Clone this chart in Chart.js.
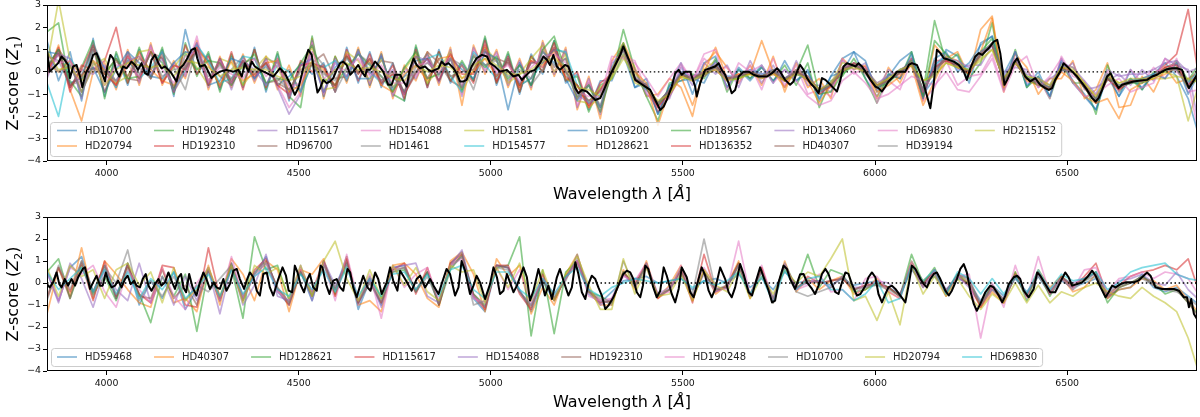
<!DOCTYPE html>
<html>
<head>
<meta charset="utf-8">
<title>Z-score spectra</title>
<script src="https://cdn.jsdelivr.net/npm/chart.js@4.4.1/dist/chart.umd.min.js"></script>
<style>
  html, body { margin: 0; padding: 0; background: #fff; }
  canvas { display: block; }
</style>
</head>
<body>
<canvas id="topChart" width="1200" height="208"></canvas>
<canvas id="bottomChart" width="1200" height="209"></canvas>
<script>
// wavelength grid shared by the individual stars (Angstrom)
const waves = [
  3845,3875,3905,3935,3965,3995,4025,4055,4085,4115,4145,4175,4205,4235,4265,4295,4325,4355,4385,4415,
  4445,4475,4505,4535,4565,4595,4625,4655,4685,4715,4745,4775,4805,4835,4865,4895,4925,4955,4985,5015,
  5045,5075,5105,5135,5165,5195,5225,5255,5285,5315,5345,5375,5405,5435,5465,5495,5525,5555,5585,5615,
  5645,5675,5705,5735,5765,5795,5825,5855,5885,5915,5945,5975,6005,6035,6065,6095,6125,6155,6185,6215,
  6245,6275,6305,6335,6365,6395,6425,6455,6485,6515,6545,6575,6605,6635,6665,6695,6725,6755,6785,6815,6845
];

const xTicks = [4000, 4500, 5000, 5500, 6000, 6500];
const yTicks = [-4, -3, -2, -1, 0, 1, 2, 3];

const topStars = ['HD10700','HD20794','HD190248','HD192310','HD115617','HD96700','HD154088','HD1461','HD1581','HD154577',
  'HD109200','HD128621','HD189567','HD136352','HD134060','HD40307','HD69830','HD39194','HD215152'];
const bottomStars = ['HD59468','HD40307','HD128621','HD115617','HD154088','HD192310','HD190248','HD10700','HD20794','HD69830'];

// ---- Z1, individual stars ----
const topHD10700 = [1.4,-0.4,0.9,-1.3,1.5,-1.1,0.8,-0.6,1.0,-0.2,1.0,-1.1,1.9,-0.1,0.8,-0.8,0.7,-0.7,1.1,-0.9,0.8,
  -1.3,0.4,-0.1,0.4,-0.9,1.1,-0.5,0.9,-0.7,0.4,-1.3,1.1,-0.7,1.0,-0.5,0.4,-0.4,1.5,-0.6,0.8,-1.0,0.8,-0.1,1.4,-0.5,-0.1,-1.7,-0.4,
  -0.4,0.8,-0.7,-0.3,-1.9,-0.7,0.4,-1.0,0.4,0.7,-0.7,0.2,-0.3,0.3,-0.5,0.5,-0.4,0.1,-1.3,-0.2,0.6,0.9,
  -0.3,-1.1,-0.2,0.5,0.9,-1.0,-0.3,1.0,0.7,-0.5,1.3,1.6,-0.1,0.9,-0.7,0.0,-1.1,0.6,-0.5,-1.1,-1.7,-0.2,-1.1,0.1,-0.8,-0.1,0.4,-0.2,-1.2,-3.0];
const topHD20794 = [-0.2,1.2,-0.8,-2.2,0.0,0.4,-0.8,1.0,-0.6,1.3,-0.6,0.5,-0.3,1.4,-0.8,0.7,-0.7,0.8,-0.5,0.7,-0.8,
  0.3,-1.1,1.5,-1.2,0.7,-0.5,1.1,-0.7,0.9,-1.2,0.3,-0.4,0.9,-0.6,1.1,-1.5,1.2,-0.1,1.0,-0.7,0.6,-0.8,1.4,-0.2,1.1,-1.7,-0.2,-2.1,
  0.5,1.3,0.2,-1.1,-1.0,-0.3,-0.7,-2.0,0.3,0.9,0.2,-0.5,0.3,-0.6,0.7,-0.9,0.4,-0.7,-0.3,-1.2,0.6,0.1,
  0.3,-1.2,0.2,-0.5,0.6,-1.3,1.2,0.6,0.9,-0.2,1.9,2.5,-0.9,0.8,0.2,-1.0,-0.3,-0.3,0.5,-1.2,-0.8,0.4,-1.6,-1.5,-0.2,-0.9,0.2,-0.5,-0.3,0.0];
const topHD190248 = [1.8,2.2,-0.7,0.2,1.4,-1.2,0.9,-0.5,1.1,-0.3,1.1,-1.0,1.3,-0.2,0.9,-0.9,0.8,-0.6,1.0,-0.8,0.9,
  -1.1,-1.6,1.6,-1.1,0.7,-0.4,1.0,-0.6,0.8,-1.0,-1.3,1.2,-0.6,0.9,-0.4,0.5,-0.4,1.6,-0.5,0.9,-0.9,0.7,0.0,1.4,-0.4,-0.2,-1.8,-0.6,
  -0.3,1.9,0.1,-1.1,-2.2,-0.5,-0.4,-0.1,-0.3,0.6,-0.9,0.1,-0.3,0.2,-0.4,0.3,-0.6,0.4,-1.6,-0.4,-0.2,0.6,
  -0.3,-1.4,-0.1,-0.3,0.9,-0.9,2.3,0.4,0.8,-0.3,0.4,2.2,-0.8,1.0,-0.7,-0.2,-1.2,0.4,-0.5,-0.5,-1.9,0.3,-0.9,-0.3,-0.8,0.0,0.0,0.5,-0.4,0.4];
const topHD192310 = [0.0,1.1,-0.9,0.3,0.1,0.5,2.0,-0.5,0.9,-0.3,0.9,-0.9,1.2,-0.1,0.7,-0.7,0.9,-0.8,1.0,-0.7,0.6,
  -1.2,0.5,0.0,0.3,-0.9,1.0,-0.4,0.8,-0.6,0.3,-1.2,1.0,-0.7,0.9,-0.4,0.3,-0.5,1.4,-0.5,0.7,-0.9,0.7,0.0,1.3,-0.4,0.0,-1.6,-0.5,
  -0.1,1.2,-0.4,-0.7,-1.8,-1.1,-0.2,-0.2,-0.1,0.1,-0.4,-0.1,-0.1,-0.3,-0.1,-0.4,-0.1,-0.2,-0.8,-0.7,0.0,0.4,
  0.2,-0.6,-0.3,-0.1,0.6,-1.2,0.5,0.5,0.2,-0.1,0.9,1.2,-0.4,0.5,-0.2,-0.6,-0.7,0.2,0.0,-0.6,-1.2,-0.2,-0.8,-0.4,-0.3,-0.1,0.3,0.8,2.8,-0.5];
const topHD115617 = [-0.3,1.0,-0.7,0.1,-0.1,0.3,-0.7,0.9,-0.5,1.2,-0.5,0.4,-0.2,1.3,-0.7,0.6,-0.8,0.7,-0.4,0.6,-0.7,
  -1.9,-1.0,1.4,-1.1,0.6,-0.4,1.0,-0.6,0.8,-1.1,0.2,-0.3,0.8,-0.5,1.0,-1.1,1.1,0.0,0.9,-0.6,0.5,-0.7,1.3,-0.1,1.0,-1.6,-0.3,-1.9,
  0.4,0.7,0.1,-1.0,-1.5,-1.2,0.2,-0.6,0.4,-0.1,0.3,-0.7,0.5,-0.5,0.3,-0.7,0.5,-0.6,-0.6,-0.9,0.5,0.1,
  0.4,-0.8,0.1,-0.3,0.6,-1.1,0.3,0.8,0.1,0.3,0.3,1.2,0.0,0.2,0.1,-0.7,-0.3,0.0,0.4,-0.8,-0.7,-0.4,-0.1,-0.6,0.1,-0.4,0.6,0.3,0.1,-2.6];
const topHD96700 = [0.2,1.0,0.3,-0.9,0.2,-0.1,0.6,-0.3,-0.4,0.9,0.6,-0.9,0.0,1.0,0.5,-0.2,-0.6,0.4,0.6,-0.5,-0.4,
  0.1,-0.9,0.4,0.8,-0.3,-0.2,0.9,-0.1,0.5,0.4,-1.0,-0.1,0.9,0.4,-0.4,-0.7,0.8,0.3,0.6,0.4,-0.6,-0.3,1.0,0.2,0.6,-1.2,-0.5,-1.6,
  -0.1,1.0,-0.3,-0.8,-1.4,-0.8,-0.1,-0.4,-0.2,0.2,-0.3,-0.2,0.0,-0.2,0.1,-0.4,0.0,-0.4,-0.8,-0.6,0.0,0.3,
  -0.1,-0.7,-0.4,0.0,0.3,-1.0,0.2,0.6,0.2,0.0,0.7,1.3,-0.5,0.5,-0.3,-0.4,-0.7,0.1,0.0,-0.7,-1.3,-0.3,-0.7,-0.5,-0.3,-0.2,0.2,0.4,-0.5,0.2];
const topHD154088 = [0.1,0.9,-0.6,-0.1,0.2,0.2,-0.6,0.8,-0.4,1.1,-0.4,0.3,-0.1,1.6,-0.6,0.5,-0.6,0.6,-0.3,0.5,-0.6,
  -1.6,-0.9,1.3,-1.0,0.5,-0.3,0.9,-0.5,0.7,-1.0,0.1,-0.2,0.7,-0.4,0.9,-1.0,1.0,0.1,0.8,-0.5,0.4,-0.6,1.2,0.0,0.9,-1.5,-0.4,-1.8,
  0.5,0.7,0.5,-0.9,-1.6,-1.0,0.3,-0.4,0.6,0.1,0.2,-0.5,0.3,-0.8,0.6,-0.6,0.3,-1.0,-0.8,-1.1,0.6,-0.1,
  0.2,-1.4,-0.4,-0.8,0.5,-1.3,-0.7,0.5,-0.6,-0.2,-0.1,0.8,-0.8,0.9,-0.5,-0.3,-1.2,0.7,-0.2,-0.4,-1.4,0.0,-0.9,0.1,-0.5,0.2,-0.3,0.6,-0.9,-0.8];
const topHD1461 = [0.7,0.5,-0.6,-0.4,1.3,0.1,-0.5,0.8,0.2,-0.3,0.9,0.2,-0.8,1.2,0.4,-0.6,0.1,0.7,-0.3,0.6,0.4,
  -0.6,-0.8,0.9,0.3,-0.9,0.1,0.8,0.4,-0.5,-0.1,-0.9,0.2,0.8,-0.2,0.6,0.3,-0.8,0.9,0.5,-0.4,0.3,-0.6,0.1,1.1,0.8,-0.9,-1.3,-0.8,
  0.0,1.1,-0.3,-0.7,-1.5,-0.9,-0.1,-0.3,-0.1,0.2,-0.3,-0.2,0.0,-0.2,0.0,-0.3,0.0,-0.3,-0.9,-0.6,0.1,0.3,
  0.0,-0.7,-0.4,0.0,0.4,-0.8,0.0,0.6,0.3,0.0,0.8,1.3,-0.4,0.5,-0.3,-0.5,-0.7,0.1,0.0,-0.7,-1.3,-0.2,-0.7,-0.5,-0.4,-0.2,0.1,0.2,-0.6,0.0];
const topHD1581 = [0.3,3.2,0.5,-0.9,0.3,0.6,-0.5,-0.2,0.9,1.0,-0.4,0.2,0.9,0.2,-0.6,0.6,0.4,-0.6,0.1,0.7,0.2,
  -0.9,0.2,1.1,-0.8,-0.7,0.9,0.5,-0.4,0.6,-0.7,0.1,0.8,-0.5,0.1,0.9,-0.9,0.1,1.1,0.5,-0.5,-0.1,0.6,1.2,0.0,0.8,-1.3,-1.4,-0.7,
  -0.3,0.6,-0.1,-0.6,-1.4,-1.0,-0.2,-0.4,0.1,0.5,-0.3,-0.3,-0.1,-0.2,0.0,-0.4,0.1,-0.2,-0.8,-0.5,0.4,0.3,
  0.1,-0.5,-0.3,0.1,0.3,-0.4,-0.1,0.4,0.2,0.1,0.5,1.0,-0.3,0.4,-0.2,-0.4,-0.6,0.2,0.2,-0.5,-1.1,-0.1,-0.5,-0.4,-0.4,-0.3,-0.3,-0.2,-2.2,-0.4];
const topHD154577 = [-0.5,-2.0,0.6,-0.2,1.2,0.1,-0.7,0.6,-0.3,0.2,0.9,-0.8,0.1,1.2,0.5,-0.5,-0.3,0.7,0.6,-0.6,0.3,
  0.0,-0.9,0.4,0.2,0.5,-0.3,0.9,0.0,-0.5,-0.2,-0.9,0.0,0.6,0.8,-0.2,-0.9,0.9,0.3,-0.3,0.6,-0.6,-0.3,0.4,1.0,0.9,-0.6,-1.4,-1.0,
  0.1,1.0,-0.3,-0.8,-1.4,-0.8,0.0,-0.3,-0.1,0.3,-0.2,-0.2,0.1,-0.1,0.0,-0.3,-0.1,-0.3,-0.9,-0.6,0.1,0.4,
  0.1,-0.6,-0.4,0.1,0.3,-0.8,0.3,0.7,0.4,0.1,0.9,1.2,-0.4,0.5,-0.2,-0.5,-0.7,0.1,0.0,-0.7,-1.2,-0.3,-0.6,-0.4,-0.3,-0.1,0.1,0.1,-0.5,0.1];
const topHD109200 = [0.9,0.8,-0.5,-0.3,0.2,-0.9,0.1,0.9,0.4,-0.2,-0.3,0.4,0.9,0.8,-0.6,-0.4,0.6,0.4,-0.3,0.3,-0.6,
  -0.2,0.3,0.6,-0.9,0.2,0.7,-0.3,-0.3,0.7,-0.8,-0.2,0.5,0.6,-0.4,0.6,0.1,-0.3,0.9,0.6,-1.7,0.4,-0.6,0.9,0.4,-0.3,-1.3,-0.6,-1.6,
  0.2,1.2,-0.7,-0.5,-1.9,-0.6,-0.4,-0.3,-0.5,0.5,-0.7,0.1,-0.4,0.2,-0.4,0.1,-0.4,0.0,-1.2,-0.2,0.0,0.9,
  0.5,-0.9,-0.1,-0.3,0.8,-1.2,0.6,0.9,0.0,0.4,1.2,1.6,-0.6,0.9,-0.6,-0.2,-1.1,0.5,-0.4,-1.0,-1.7,-0.1,-1.1,-0.3,-0.7,-0.1,-0.3,0.4,-1.0,0.0];
const topHD128621 = [0.4,0.0,0.5,-0.2,0.5,0.1,-0.6,0.4,0.7,0.1,-0.4,-0.6,0.3,1.1,0.3,-0.6,0.5,-0.4,-0.1,0.4,0.5,
  -0.9,-0.6,0.4,0.1,-0.6,0.7,0.0,0.5,-0.6,-0.9,-0.1,0.3,-0.4,0.6,0.7,-0.3,0.0,0.6,-0.2,0.4,-0.7,0.5,0.3,0.9,-0.3,-0.6,-1.6,-1.1,
  0.1,1.2,0.0,-0.5,-2.4,-0.8,-0.2,-1.5,0.0,1.1,-0.3,-0.1,-0.1,1.4,0.0,-0.7,0.1,-0.4,-1.4,-0.6,0.2,0.3,
  0.1,-0.9,-0.6,-0.2,0.3,-1.5,-0.4,0.7,0.5,-0.1,0.9,2.4,-0.7,0.5,-0.4,-0.6,-0.8,0.0,-0.4,-1.1,-1.4,-1.2,-2.1,-0.8,-0.5,-0.3,-0.1,0.2,-0.7,-0.2];
const topHD189567 = [0.2,1.0,-0.4,-1.1,1.0,-0.1,0.6,-0.3,-0.2,0.9,0.4,-0.8,0.8,0.1,0.5,0.4,-0.6,0.3,0.8,-0.5,-0.3,
  -0.4,0.4,1.2,-0.3,-0.6,0.2,0.8,0.3,-0.2,-0.9,0.2,0.9,-0.3,-0.1,0.6,-0.8,0.7,0.2,0.7,-0.3,0.3,-0.6,1.0,1.6,0.0,-1.1,-0.6,-1.8,
  0.0,1.3,-0.3,-0.7,-1.5,-0.9,-0.1,-0.3,-0.1,0.3,-0.3,-0.3,0.0,-0.2,0.1,-0.4,0.0,1.2,-1.0,-0.9,-0.1,0.3,
  0.0,-0.7,-0.5,0.0,0.5,-1.1,1.4,0.8,0.3,0.0,0.9,1.5,-0.3,0.5,-0.3,-0.6,-0.8,0.2,0.0,-0.7,-1.4,-0.3,-0.7,-0.5,-0.5,-0.2,0.1,0.2,-0.7,-0.2];
const topHD136352 = [0.1,0.8,-0.7,0.1,1.2,-0.1,-0.6,0.7,-0.3,0.9,-0.5,0.3,0.1,1.1,-0.6,0.6,-0.5,0.5,-0.2,0.4,-0.6,
  -1.0,0.3,0.4,0.2,-0.7,0.8,-0.1,0.6,-0.5,-0.1,-1.0,0.0,0.6,-0.4,0.8,-0.1,-0.1,1.2,-0.4,0.6,-0.7,0.5,0.2,1.1,-0.2,-0.6,-1.5,-0.8,
  0.0,1.1,-0.3,-0.7,-1.6,-0.9,-0.1,-0.3,-0.1,0.3,-0.3,-0.2,0.0,-0.2,0.0,-0.4,0.0,-0.3,-1.0,-0.6,0.1,0.4,
  0.0,-0.6,-0.4,0.0,0.4,-0.9,0.2,0.5,0.3,0.0,0.8,1.2,-0.4,0.5,-0.3,-0.5,-0.8,0.2,0.0,-0.7,-1.4,-0.3,-0.8,-0.4,-0.4,-0.2,0.2,0.3,-0.6,0.0];
const topHD134060 = [-0.1,0.8,0.6,-1.2,1.0,0.2,-0.4,0.5,0.7,-0.1,0.6,-0.9,0.3,1.3,-0.5,0.6,-0.5,0.5,0.1,-0.6,0.5,
  -1.1,0.3,0.6,-0.9,0.4,-0.2,0.9,0.0,-0.4,0.1,-1.0,0.7,0.5,-0.1,0.6,-0.7,0.3,1.0,-0.1,0.4,-0.5,0.4,0.5,1.0,0.1,-1.0,-1.4,-1.1,
  0.0,1.0,-0.2,-0.6,-1.4,-0.8,0.0,-0.2,0.0,0.4,-0.2,-0.2,0.1,-0.1,0.1,-0.3,0.1,-0.2,-0.8,-0.5,0.2,0.3,
  0.1,-0.5,-0.2,0.1,0.4,-0.9,0.2,0.6,0.5,0.2,0.9,1.2,-0.2,0.6,-0.1,-0.3,-0.6,0.4,0.2,-0.4,-1.0,0.1,-0.2,-0.1,-0.1,0.1,0.4,0.5,0.0,0.2];
const topHD40307 = [0.2,0.9,-0.6,-0.2,1.1,-0.9,0.5,-0.2,0.6,0.1,0.7,-0.7,0.2,1.0,-0.4,0.4,-0.4,0.5,-0.1,0.4,-0.5,
  -0.8,0.1,0.3,0.0,-0.6,0.7,-0.1,0.6,-0.4,0.0,-0.9,0.7,-0.3,0.6,-0.2,0.0,0.1,1.0,-0.2,0.5,-0.6,0.4,0.4,1.0,0.0,-0.6,-1.3,-0.9,
  0.0,1.0,-0.3,-0.6,-1.4,-0.8,-0.1,-0.3,0.0,0.2,-0.3,-0.2,0.0,-0.2,0.0,-0.3,0.0,-0.3,-0.8,-0.6,0.1,0.3,
  0.0,-0.6,-0.4,0.0,0.4,-0.8,0.1,0.6,0.3,0.0,0.8,1.2,-0.4,0.4,-0.3,-0.5,-0.7,0.1,0.0,-0.6,-1.2,-0.2,-0.6,-0.4,-0.4,-0.2,0.1,0.1,-0.6,-0.1];
const topHD69830 = [0.7,0.4,0.5,-0.7,0.5,-0.6,0.3,0.3,-0.2,1.1,0.1,-0.5,0.7,0.9,-0.4,0.2,-0.1,-0.3,0.6,-0.2,0.3,
  -0.7,-0.5,0.9,-0.3,0.1,0.1,0.6,-0.2,0.3,-0.5,-0.5,0.3,0.4,0.0,0.6,-0.6,0.4,0.8,0.0,0.3,-0.4,0.2,0.7,0.8,0.4,-0.9,-1.1,-1.1,
  0.7,0.6,0.4,-0.3,-1.1,-0.3,0.4,-0.4,0.8,1.0,-0.8,0.4,0.0,0.3,-0.5,0.1,-0.4,-1.1,-1.5,-1.3,-0.4,0.0,
  -0.5,-1.2,-1.0,-0.6,-0.2,-0.4,-0.6,0.0,-0.8,-0.9,-0.2,0.6,-0.9,0.3,0.7,-0.7,-0.2,0.6,-0.5,-1.1,-1.0,-0.6,-0.3,-0.9,-0.7,-0.5,0.6,0.0,-0.5,-2.9];
const topHD39194 = [0.9,0.0,0.3,-0.9,0.4,0.0,-0.4,0.5,-0.1,0.8,-0.2,0.1,0.2,0.9,-0.2,0.3,-0.3,0.3,0.0,0.2,-0.3,
  -0.8,0.0,0.4,-0.1,-0.4,0.6,0.0,0.4,-0.2,-0.7,-0.2,0.0,0.4,-0.1,0.6,-0.7,0.7,0.3,0.5,-0.2,0.1,-0.3,0.9,0.3,0.6,-1.2,-0.6,-1.5,
  0.0,1.0,-0.3,-0.7,-1.4,-0.9,-0.1,-0.3,-0.1,0.2,-0.3,-0.2,0.0,-0.2,0.0,-0.3,0.0,-0.3,-0.9,-0.6,0.1,0.3,
  0.0,-0.7,-0.4,0.0,0.4,-0.8,0.0,0.6,0.3,0.0,0.8,1.3,-0.4,0.5,-0.3,-0.5,-0.7,0.1,0.0,-0.7,-1.3,-0.2,-0.7,-0.5,-0.4,-0.2,0.1,0.1,-0.7,-0.1];
const topHD215152 = [0.9,0.1,0.2,-0.4,0.5,-0.6,0.1,0.4,0.3,0.2,0.3,-0.2,0.5,0.4,0.2,-0.2,0.1,0.2,0.1,0.1,-0.2,
  -0.4,-0.2,0.5,-0.5,0.1,0.4,0.1,0.2,0.0,-0.3,-0.4,0.3,0.0,0.3,0.2,-0.3,0.3,0.6,0.3,-0.1,-0.1,0.1,0.5,0.6,0.2,-0.7,-0.8,-1.1,
  -0.2,0.8,-0.5,-0.7,-1.3,-1.0,-0.2,-0.4,-0.1,0.1,-0.4,-0.3,-0.1,-0.3,-0.1,-0.4,-0.1,-0.3,-0.8,-0.5,0.1,0.2,
  0.0,-0.6,-0.3,0.1,0.3,-0.4,-0.2,0.4,0.2,0.1,0.6,1.0,-0.3,0.4,-0.2,-0.3,-0.6,0.2,0.1,-0.5,-1.1,-0.2,-0.5,-0.3,-0.3,-0.3,0.0,-0.2,-0.3,-0.5];

// ---- Z2, individual stars ----
const botHD59468 = [0.5,-0.8,0.7,1.2,-0.4,0.8,-0.7,0.9,-1.0,0.1,-0.7,0.5,-1.2,-0.3,0.7,-0.8,0.9,-0.7,0.4,1.2,-0.4,
  -1.0,0.5,-0.8,1.0,-0.3,1.2,-1.2,0.1,-1.0,0.7,0.8,-0.4,0.5,-1.0,0.9,1.4,-0.7,-1.3,0.8,0.7,-0.3,-1.3,0.1,-0.8,0.3,1.0,-0.5,-0.9,
  -0.4,0.1,0.2,0.3,0.0,0.1,0.2,-0.3,0.1,0.2,0.0,0.4,-0.2,0.2,-0.3,0.5,0.0,0.1,0.1,-0.1,0.2,-0.1,
  0.0,0.1,-0.2,-0.5,0.6,0.0,0.3,-0.3,0.2,0.0,-0.8,-0.1,-0.6,0.2,-0.4,0.3,-0.5,0.1,-0.2,0.0,0.2,-0.6,-0.3,-0.2,0.4,-0.2,-0.4,-0.2,-0.6,-1.0];
const botHD40307 = [-1.4,0.7,-0.6,1.6,-0.7,1.0,0.4,-0.3,-0.9,-1.1,0.7,-0.9,-0.7,-1.3,0.8,-1.0,1.1,0.4,-0.8,1.0,0.6,
  -1.3,0.6,0.4,1.1,-0.6,1.2,-1.0,-0.8,-1.3,0.8,0.9,0.4,-0.7,-1.1,1.0,1.4,0.4,-1.3,1.1,0.3,0.8,-1.4,-0.2,-1.0,0.4,1.3,-0.4,-1.0,
  -1.0,0.6,-0.3,1.0,-0.7,-0.1,0.8,-0.8,0.6,-0.5,-0.1,1.0,-0.7,0.7,-0.9,1.0,-0.4,0.2,-0.3,0.1,0.3,-0.5,
  -0.3,0.2,-0.4,-0.7,0.9,0.1,0.5,-0.6,0.4,0.0,-1.1,-0.4,-0.9,0.5,-0.6,0.6,-0.2,0.3,-0.4,-0.2,0.4,-0.7,-0.3,-0.2,0.2,0.1,-0.3,-0.1,-0.8,-1.4];
const botHD128621 = [0.5,1.1,-0.7,0.8,-0.5,0.3,-0.8,0.7,-0.5,-1.8,0.3,-0.6,0.4,-2.2,0.6,-0.7,0.7,-1.6,2.1,0.6,0.8,
  -0.8,0.5,-0.6,0.9,-0.5,0.9,-0.9,0.3,-0.7,0.5,0.6,-0.4,0.5,-1.0,0.6,1.3,-0.5,-1.0,0.7,0.8,2.1,-2.4,0.6,-2.3,0.5,1.0,-0.4,-0.6,
  -0.9,0.5,-0.1,0.8,-0.6,-0.3,0.7,-0.7,0.5,-0.3,-0.2,0.9,-0.6,0.6,-0.8,0.9,-0.2,1.3,-0.2,0.6,0.4,-0.4,
  -0.3,0.0,-0.2,-0.6,1.3,0.0,0.7,-0.5,0.4,-0.1,-1.0,-0.1,-0.8,0.5,-0.8,0.5,-0.6,0.3,-0.1,0.1,0.5,-0.9,-0.2,0.0,0.3,0.0,-0.5,-0.3,-0.9,-1.5];
const botHD115617 = [-0.7,0.7,-0.4,0.9,-0.8,1.0,-0.6,0.8,-0.5,-0.9,0.8,0.7,-1.0,-1.1,1.6,-0.7,0.7,-0.8,0.6,1.1,-0.3,
  -1.0,0.6,-0.4,1.0,-0.6,1.1,-0.9,0.2,-0.9,0.6,0.9,-0.5,0.7,-1.0,0.9,1.3,-0.6,-1.2,0.8,0.8,-0.5,-1.2,0.4,-0.8,0.3,1.0,-0.3,-0.9,
  -0.8,0.4,0.0,0.9,-0.7,-0.3,0.6,-0.9,1.3,-0.4,-0.1,0.9,-0.6,0.7,-0.9,0.8,-0.3,0.3,0.0,0.1,0.2,-0.3,
  -0.1,0.0,-0.2,-0.6,0.8,-0.1,0.6,-0.4,0.3,-0.1,-1.1,-0.2,-0.9,0.4,-0.6,0.5,-0.5,0.3,-0.2,0.3,0.9,-0.6,-0.1,0.3,0.5,0.6,0.8,0.6,1.1,-0.5];
const botHD154088 = [0.5,-0.9,0.9,0.2,-1.1,0.6,-0.3,-0.8,0.9,-0.9,0.3,-1.0,0.3,-0.8,0.6,-1.4,0.8,-1.0,-0.1,1.3,-0.6,
  -0.8,0.8,-0.8,1.0,-0.1,0.9,-1.0,0.2,-1.1,0.7,0.8,0.9,-0.6,-0.9,0.8,1.5,-0.6,-1.1,0.8,0.7,-0.4,-1.0,0.2,-0.7,0.2,1.1,-0.3,-1.0,
  -0.7,0.4,-0.2,0.7,-0.5,-0.2,0.5,-0.6,0.4,-0.4,-0.2,0.8,-0.6,0.5,-0.7,0.8,-0.2,0.0,0.1,-0.2,0.3,-0.2,
  -0.2,0.1,0.0,-0.5,0.7,-0.2,0.6,-0.3,0.3,-0.2,-0.9,-0.3,-0.7,0.3,-0.5,0.4,-0.3,0.2,0.0,0.2,0.4,-0.5,0.1,0.2,0.4,0.0,-0.1,0.5,-0.3,-0.8];
const botHD192310 = [-0.6,0.7,-0.7,1.0,-0.4,0.8,-0.7,0.9,-0.6,-0.7,0.6,-0.7,-0.1,-1.0,0.6,-0.8,0.9,-0.6,0.5,1.0,-0.2,
  -0.9,0.5,-0.6,0.9,-0.3,1.0,-0.9,0.0,-0.9,0.6,0.7,-0.3,0.5,-0.9,0.8,1.2,-0.5,-1.1,0.8,0.7,-0.4,-1.1,0.2,-0.7,0.2,0.9,-0.4,-0.8,
  -0.9,0.5,-0.1,0.8,-0.6,-0.3,0.6,-0.6,0.5,-0.3,-0.2,0.8,-0.5,0.6,-0.8,0.8,-0.2,0.1,0.0,0.1,0.2,-0.3,
  -0.1,-0.1,-0.2,-0.6,1.0,0.0,0.5,-0.4,0.4,0.2,-1.0,-0.1,-0.8,0.3,-0.6,0.5,-0.4,0.2,-0.1,0.2,0.5,-0.7,-0.2,0.0,0.3,-0.1,-0.3,-0.3,-0.9,-1.6];
const botHD190248 = [0.6,-0.8,0.7,0.4,0.8,-0.4,-1.1,0.6,-0.3,-0.9,0.7,-0.6,-1.2,0.0,0.7,-0.8,1.2,-0.7,0.3,0.9,-0.4,
  -0.8,0.7,-0.4,0.9,-0.8,1.3,-0.8,0.4,-1.6,0.8,-0.2,0.4,0.7,-0.8,0.8,1.1,-0.7,-0.9,0.7,-0.3,0.6,-0.9,0.2,-0.5,0.2,1.0,-0.6,-0.8,
  -0.7,0.3,0.1,0.9,-0.5,-0.4,0.8,-0.7,0.7,-0.2,-0.3,1.9,-0.6,0.8,-0.8,0.9,-0.3,-0.1,0.4,-0.4,-0.3,-0.8,
  0.2,0.3,-0.4,-0.7,0.9,-0.2,0.5,-0.6,0.3,0.4,-2.5,0.0,-1.1,0.8,-0.7,1.2,-0.5,0.2,-0.3,0.6,0.7,-0.4,0.2,0.3,0.5,0.2,0.5,0.4,0.2,-0.6];
const botHD10700 = [-0.8,0.8,-0.3,1.0,-0.6,0.7,0.0,1.5,-0.8,0.1,-0.6,0.3,-0.8,-0.1,-0.4,0.2,0.8,-0.8,0.4,0.9,-0.2,
  -0.9,0.5,-0.5,0.8,-0.2,0.8,-0.8,0.0,-0.8,0.5,0.7,-0.4,0.3,-0.9,0.7,1.2,-1.0,-0.8,0.7,0.6,-0.4,-1.0,0.1,-0.6,0.1,1.3,-0.4,-0.7,
  -1.0,1.0,-0.2,0.9,-0.6,-0.3,0.4,-0.5,2.0,-0.3,-0.1,0.8,-0.5,0.5,-0.7,0.8,-0.4,-0.6,-0.4,-0.2,0.3,-0.3,
  -0.2,-0.1,-0.3,-0.6,0.7,-0.2,0.4,-0.4,0.4,0.1,-1.0,-0.3,-0.8,0.3,-0.5,0.3,-0.4,0.2,-0.3,0.1,0.3,-0.5,-0.1,0.0,0.2,-0.1,-0.3,-0.4,-0.7,-1.1];
const botHD20794 = [0.7,-0.6,0.8,0.3,0.6,-0.7,0.6,0.9,-0.1,0.5,-0.9,0.7,-0.8,-0.3,0.7,-0.6,0.8,-0.9,0.8,0.4,0.7,
  -0.7,0.8,-0.6,1.0,1.9,0.2,-0.8,0.6,-0.7,0.8,-0.1,0.7,-0.4,-0.8,0.8,0.5,0.6,-0.9,0.7,-0.2,0.9,-0.8,0.6,-0.8,0.4,1.2,-0.1,-1.2,
  -1.2,1.1,-0.5,0.7,-0.6,-0.5,0.4,-0.8,0.6,-0.1,-0.4,0.6,-0.7,0.3,-0.5,0.6,0.0,0.5,0.3,1.1,2.0,-0.8,
  -0.6,-1.7,-0.4,-1.9,0.8,-0.5,0.3,-0.6,0.2,-0.6,-1.2,-0.5,-0.9,0.0,-0.9,-0.1,-0.9,-0.4,-0.6,-0.2,0.0,-0.4,-0.6,-0.7,-0.2,-0.6,-0.9,-1.3,-2.5,-4.2];
const botHD69830 = [0.5,-0.3,0.2,0.7,-0.4,0.6,-0.5,0.5,-0.7,0.2,-0.3,0.5,-0.7,-0.2,0.4,-0.6,0.6,-0.5,0.3,0.7,-0.3,
  -0.6,0.4,-0.3,0.6,-0.4,0.7,-0.6,0.2,-0.6,0.4,0.5,-0.3,0.4,-0.6,0.6,0.8,-0.3,-0.7,0.5,0.5,-0.3,-0.7,0.2,-0.5,0.3,0.7,-0.3,-0.6,
  -0.2,0.0,0.2,0.1,0.0,0.1,0.2,-0.2,0.1,-0.1,0.1,0.5,-0.5,0.3,-0.9,0.6,-0.3,0.2,0.3,-0.3,-0.3,-0.8,
  -0.5,0.1,-0.9,-0.7,0.8,0.1,0.6,-0.5,0.5,0.2,-0.5,0.2,-0.5,0.3,-0.5,0.6,-0.3,0.4,0.1,0.2,0.5,-0.3,0.0,0.5,0.7,0.8,0.9,0.4,0.2,0.1];

// ---- mean curves (black), [wavelength, Z] read at the turning points ----
const meanTop = [
  [3845,0.99],[3852,0.01],[3861,0.16],[3874,0.39],[3883,0.69],[3891,0.54],[3900,0.31],[3905,-0.28],[3913,0.24],[3922,0.31],
  [3931,-0.21],[3937,-0.69],[3946,-0.06],[3957,0.31],[3965,0.76],[3974,0.84],[3981,0.54],[3987,0.01],[3996,-0.43],[4002,0.24],
  [4010,0.76],[4017,0.61],[4026,0.01],[4033,-0.21],[4043,0.24],[4052,0.16],[4065,0.46],[4074,0.31],[4082,0.09],[4091,0.39],
  [4100,-0.06],[4108,-0.13],[4117,0.54],[4126,0.76],[4135,0.39],[4143,0.16],[4152,0.24],[4161,0.09],[4169,-0.06],[4182,-0.43],
  [4191,0.16],[4200,0.31],[4208,0.54],[4221,0.99],[4230,1.06],[4236,0.61],[4243,0.24],[4256,0.31],[4265,0.01],[4273,-0.28],
  [4282,-0.13],[4295,0.01],[4312,0.09],[4330,0.01],[4343,0.09],[4352,-0.21],[4360,0.39],[4369,0.01],[4378,0.46],[4386,0.24],
  [4399,0.09],[4417,-0.06],[4434,-0.21],[4451,0.16],[4464,-0.06],[4477,-0.51],[4490,-1.03],[4499,-0.73],[4508,-0.13],[4516,0.46],
  [4525,0.99],[4534,0.76],[4543,-0.36],[4549,-0.93],[4556,-0.73],[4564,-0.36],[4573,-0.51],[4582,-0.43],[4590,-0.28],[4599,0.09],
  [4608,0.39],[4616,0.46],[4625,0.31],[4634,-0.13],[4642,0.01],[4655,0.31],[4664,0.01],[4673,-0.21],[4677,0.09],[4686,0.09],
  [4699,0.46],[4707,0.31],[4720,0.01],[4733,-0.58],[4742,-0.58],[4751,-0.13],[4764,-0.13],[4773,-0.43],[4781,-0.66],[4790,0.16],
  [4799,0.60],[4807,0.31],[4816,0.16],[4829,0.24],[4838,0.09],[4846,0.01],[4855,0.09],[4864,0.16],[4872,0.46],[4881,0.31],
  [4890,0.39],[4903,0.16],[4911,-0.06],[4920,-0.43],[4929,-0.43],[4937,-0.36],[4950,0.24],[4963,0.61],[4977,0.76],[4990,0.69],
  [4998,0.39],[5011,0.24],[5024,0.01],[5042,0.09],[5059,-0.21],[5072,-0.13],[5081,-0.36],[5089,-0.21],[5102,0.01],[5115,0.09],
  [5128,0.39],[5137,0.69],[5146,0.54],[5154,0.31],[5163,0.76],[5172,0.24],[5180,0.09],[5193,0.31],[5202,0.24],[5211,-0.21],
  [5220,-0.73],[5228,-0.96],[5237,-0.81],[5250,-0.88],[5263,-1.11],[5272,-1.26],[5285,-1.18],[5298,-0.66],[5311,-0.13],[5324,0.31],
  [5337,0.76],[5345,1.14],[5354,0.76],[5363,0.39],[5376,-0.36],[5389,-0.51],[5402,-0.66],[5415,-0.81],[5428,-1.26],[5441,-1.71],
  [5450,-1.56],[5458,-1.26],[5471,-0.66],[5480,-0.06],[5489,0.09],[5497,-0.13],[5506,0.01],[5519,0.01],[5532,-0.66],[5536,-1.11],
  [5545,-0.51],[5558,0.09],[5571,0.16],[5584,0.24],[5593,0.39],[5601,0.09],[5610,-0.13],[5619,-0.51],[5627,-0.96],[5636,-0.81],
  [5645,-0.21],[5658,0.01],[5671,0.01],[5684,-0.13],[5697,-0.21],[5710,-0.21],[5719,-0.21],[5732,-0.06],[5745,0.16],[5753,0.01],
  [5766,-0.36],[5779,-0.58],[5788,-0.43],[5797,0.01],[5805,0.31],[5814,0.09],[5823,-0.28],[5832,-0.51],[5844,-0.73],[5853,-0.96],
  [5862,-0.28],[5871,-0.36],[5884,-0.58],[5892,-0.73],[5901,-0.88],[5910,-0.36],[5918,0.24],[5927,0.39],[5940,0.31],[5949,0.24],
  [5957,0.39],[5966,0.24],[5975,0.01],[5988,-0.36],[6001,-0.66],[6009,-0.73],[6018,-0.88],[6027,-0.66],[6035,-0.43],[6048,-0.21],
  [6057,0.01],[6070,0.01],[6079,0.01],[6088,0.31],[6096,0.39],[6109,0.31],[6118,-0.06],[6131,-0.81],[6144,-1.63],[6153,-0.51],
  [6161,0.99],[6170,0.84],[6179,0.61],[6192,0.54],[6205,0.46],[6218,0.31],[6231,0.01],[6239,-0.36],[6248,0.16],[6261,0.69],
  [6270,0.84],[6279,0.76],[6287,0.91],[6296,1.06],[6309,1.36],[6318,1.44],[6326,0.84],[6337,-0.58],[6344,-0.36],[6352,-0.06],
  [6361,0.39],[6370,0.61],[6378,0.31],[6391,-0.21],[6404,-0.43],[6417,-0.28],[6430,-0.58],[6443,-0.73],[6452,-0.81],[6461,-0.73],
  [6469,-0.36],[6482,0.01],[6491,0.39],[6500,0.24],[6513,0.01],[6526,-0.21],[6539,-0.51],[6552,-0.81],[6565,-1.18],[6574,-1.33],
  [6582,-1.18],[6591,-0.81],[6604,-0.21],[6613,-0.06],[6621,-0.36],[6634,-0.73],[6643,-0.58],[6656,-0.51],[6673,-0.43],[6691,-0.39],
  [6708,-0.36],[6721,-0.21],[6734,-0.13],[6747,0.01],[6760,0.12],[6773,0.16],[6786,0.16],[6799,0.09],[6808,-0.36],[6817,-0.73],
  [6825,-0.51],[6838,-0.13]
];
const meanBottom = [
  [3845,-0.05],[3852,-0.20],[3861,0.03],[3870,0.48],[3877,-0.05],[3883,-0.20],[3891,0.18],[3900,-0.12],[3909,0.18],[3918,-0.12],
  [3926,0.26],[3938,0.64],[3944,0.71],[3950,0.26],[3957,-0.27],[3965,0.03],[3974,0.33],[3983,-0.12],[3990,-0.12],[3998,0.48],
  [4004,0.11],[4013,-0.20],[4022,-0.12],[4030,0.11],[4039,-0.20],[4048,0.18],[4055,0.33],[4063,-0.05],[4072,0.11],[4078,-0.12],
  [4087,-0.20],[4094,0.18],[4102,0.41],[4109,-0.12],[4117,-0.35],[4126,-0.05],[4135,0.18],[4143,-0.12],[4152,0.03],[4161,0.48],
  [4169,0.11],[4178,-0.27],[4187,0.26],[4194,0.41],[4200,-0.20],[4207,-0.42],[4215,0.41],[4224,-0.20],[4234,-0.57],[4243,0.03],
  [4252,0.48],[4260,0.18],[4269,-0.27],[4279,0.03],[4286,-0.20],[4295,-0.27],[4304,0.18],[4312,-0.35],[4321,-0.05],[4330,0.56],
  [4339,0.64],[4347,0.18],[4358,-0.27],[4366,0.18],[4373,0.48],[4382,0.26],[4391,-0.35],[4399,-0.57],[4408,0.41],[4417,0.48],
  [4425,-0.20],[4434,-0.57],[4447,0.18],[4458,0.71],[4467,0.33],[4474,-0.35],[4483,-0.42],[4490,0.79],[4497,0.48],[4506,-0.12],
  [4514,-0.42],[4523,0.18],[4529,0.41],[4538,-0.20],[4547,-0.35],[4557,0.79],[4562,0.71],[4571,-0.05],[4580,-0.50],[4590,0.11],
  [4599,0.18],[4608,-0.20],[4616,-0.35],[4627,0.64],[4634,0.48],[4642,-0.20],[4651,-0.65],[4660,-0.12],[4668,0.33],[4679,-0.20],
  [4687,-0.35],[4699,0.48],[4707,0.18],[4716,-0.50],[4729,0.03],[4738,0.71],[4746,0.11],[4757,-0.35],[4764,0.56],[4777,0.18],
  [4794,-0.35],[4807,0.18],[4816,0.33],[4829,-0.20],[4842,0.18],[4851,-0.12],[4864,-0.50],[4872,-0.05],[4885,0.64],[4894,0.41],
  [4907,-0.57],[4916,-0.20],[4924,1.00],[4933,0.56],[4946,-0.50],[4955,-0.12],[4963,0.33],[4972,0.03],[4985,-0.73],[4998,-0.05],
  [5007,0.71],[5016,0.26],[5024,-0.50],[5033,-0.35],[5042,0.41],[5050,0.03],[5059,-0.42],[5068,-0.12],[5085,0.71],[5094,0.26],
  [5102,-0.80],[5111,-0.35],[5124,0.64],[5133,0.03],[5141,-0.57],[5150,-0.12],[5159,-0.73],[5172,0.26],[5180,0.64],[5189,0.11],
  [5202,-0.57],[5211,-0.20],[5220,0.94],[5228,0.41],[5237,-0.42],[5246,-0.73],[5254,-0.05],[5263,0.33],[5272,0.18],[5280,-0.20],
  [5289,-0.57],[5298,-1.18],[5306,-1.03],[5319,-0.65],[5332,-0.12],[5345,0.41],[5354,0.56],[5363,0.48],[5371,0.18],[5380,-0.42],
  [5389,-0.65],[5396,-0.12],[5402,0.79],[5410,0.64],[5423,-0.20],[5432,-0.65],[5441,-0.35],[5450,0.71],[5458,0.33],[5471,-0.50],
  [5480,-0.88],[5489,-0.27],[5497,0.71],[5510,0.26],[5519,-0.42],[5528,-0.65],[5536,-0.12],[5549,0.71],[5558,0.33],[5567,-0.35],
  [5575,-0.65],[5584,-0.27],[5597,0.71],[5610,0.18],[5619,-0.42],[5627,-0.65],[5636,-0.20],[5649,0.86],[5658,0.41],[5671,-0.42],
  [5680,-0.57],[5688,-0.05],[5701,0.71],[5710,0.26],[5723,-0.35],[5732,-0.88],[5740,-0.80],[5749,0.03],[5762,0.79],[5771,0.64],
  [5779,0.18],[5792,-0.27],[5805,0.40],[5814,0.41],[5823,0.03],[5836,-0.27],[5844,-0.50],[5853,-0.12],[5862,0.41],[5871,0.64],
  [5879,0.41],[5888,-0.05],[5897,-0.42],[5905,-0.50],[5914,0.03],[5923,0.48],[5931,0.41],[5940,-0.05],[5953,-0.57],[5962,-0.50],
  [5975,-0.12],[5983,0.26],[5992,0.48],[6001,0.26],[6009,-0.50],[6018,-0.88],[6027,-0.50],[6035,-0.20],[6044,-0.12],[6053,-0.27],
  [6066,-0.57],[6079,-0.88],[6088,-0.05],[6096,0.79],[6105,0.64],[6118,0.18],[6127,-0.05],[6135,-0.20],[6144,0.18],[6153,0.41],
  [6161,0.48],[6170,0.18],[6183,-0.35],[6192,-0.57],[6200,-0.35],[6213,0.18],[6222,0.64],[6231,0.86],[6239,0.48],[6248,-0.35],
  [6257,-0.95],[6265,-1.26],[6274,-0.95],[6287,-0.42],[6300,-0.12],[6309,-0.20],[6322,-0.57],[6331,-0.88],[6339,-0.57],[6348,-0.05],
  [6361,0.26],[6370,0.33],[6378,0.18],[6387,-0.35],[6400,-0.65],[6413,-0.27],[6422,0.48],[6430,0.33],[6443,-0.05],[6456,-0.42],
  [6469,-0.42],[6482,0.03],[6495,0.48],[6504,0.26],[6513,-0.12],[6526,-0.05],[6539,0.03],[6552,0.26],[6565,0.56],[6574,0.33],
  [6587,-0.20],[6600,-0.65],[6608,-0.42],[6617,-0.12],[6626,-0.20],[6639,-0.05],[6652,0.03],[6673,0.03],[6686,0.11],[6699,0.33],
  [6708,0.48],[6717,0.33],[6730,-0.20],[6747,-0.27],[6765,-0.27],[6778,-0.27],[6791,-0.35],[6804,-0.65],[6812,-0.65],[6817,-1.10],
  [6823,-0.73],[6830,-1.41],[6838,-1.63]
];

const topSeries = [topHD10700, topHD20794, topHD190248, topHD192310, topHD115617, topHD96700, topHD154088, topHD1461,
  topHD1581, topHD154577, topHD109200, topHD128621, topHD189567, topHD136352, topHD134060, topHD40307, topHD69830,
  topHD39194, topHD215152];
const bottomSeries = [botHD59468, botHD40307, botHD128621, botHD115617, botHD154088, botHD192310, botHD190248,
  botHD10700, botHD20794, botHD69830];

const xMin = 3845, xMax = 6838;
const tab10 = ['rgba(31,119,180,0.55)', 'rgba(255,127,14,0.55)', 'rgba(44,160,44,0.55)', 'rgba(214,39,40,0.55)',
  'rgba(148,103,189,0.55)', 'rgba(140,86,75,0.55)', 'rgba(227,119,194,0.55)', 'rgba(127,127,127,0.55)',
  'rgba(188,189,34,0.55)', 'rgba(23,190,207,0.55)'];
const FONT = '"DejaVu Sans", "Liberation Sans", sans-serif';

Chart.defaults.font.family = FONT;

function starSets(names, rows) {
  return names.map((name, i) => ({
    label: name,
    data: waves.map((w, k) => ({ x: w, y: rows[i][k] })),
    borderColor: tab10[i % 10],
    borderWidth: 1.7,
    pointRadius: 0,
    borderJoinStyle: 'round',
    clip: 0,
    order: 100 - i
  }));
}

function meanSet(pairs) {
  return {
    label: 'mean',
    data: pairs.map(p => ({ x: p[0], y: p[1] })),
    borderColor: '#000',
    borderWidth: 2,
    pointRadius: 0,
    borderJoinStyle: 'round',
    clip: 0,
    order: 0
  };
}

function zeroSet() {
  return {
    label: 'zero',
    data: [{ x: xMin, y: 0 }, { x: xMax, y: 0 }],
    borderColor: '#000',
    borderWidth: 1.4,
    borderDash: [1.5, 2.6],
    pointRadius: 0,
    clip: 0,
    order: 1
  };
}

// legend drawn in matplotlib style: boxed, column-major, inside the axes
const starLegend = {
  id: 'starLegend',
  afterDatasetsDraw(chart, args, opts) {
    const ctx = chart.ctx;
    const items = opts.items;
    const rows = opts.rows;
    const cols = Math.ceil(items.length / rows);
    ctx.save();
    ctx.font = '10px ' + FONT;
    const colW = [];
    for (let c = 0; c < cols; c++) {
      let w = 0;
      for (let r = 0; r < rows; r++) {
        const it = items[c * rows + r];
        if (it) w = Math.max(w, ctx.measureText(it.label).width);
      }
      colW.push(w);
    }
    const handle = 20, gap = 8, colGap = 22;
    let boxW = opts.padL + opts.padR + colGap * (cols - 1);
    colW.forEach(w => { boxW += handle + gap + w; });
    const bx = opts.x + 0.5, by = opts.top + 0.5;
    ctx.beginPath();
    if (ctx.roundRect) ctx.roundRect(bx, by, boxW, opts.height, 3);
    else ctx.rect(bx, by, boxW, opts.height);
    ctx.fillStyle = 'rgba(255,255,255,0.8)';
    ctx.fill();
    ctx.strokeStyle = '#cccccc';
    ctx.lineWidth = 1;
    ctx.stroke();

    ctx.textBaseline = 'middle';
    ctx.textAlign = 'left';
    let x = opts.x + opts.padL;
    for (let c = 0; c < cols; c++) {
      for (let r = 0; r < rows; r++) {
        const it = items[c * rows + r];
        if (!it) continue;
        const y = opts.top + opts.firstRow + r * opts.rowH;
        ctx.strokeStyle = it.color;
        ctx.lineWidth = 1.6;
        ctx.beginPath();
        ctx.moveTo(x, y);
        ctx.lineTo(x + handle, y);
        ctx.stroke();
        ctx.fillStyle = '#222';
        ctx.fillText(it.label, x + handle + gap, y + 0.5);
      }
      x += handle + gap + colW[c] + colGap;
    }
    ctx.restore();
  }
};

function drawPieces(ctx, pieces, cx, baseY) {
  let total = 0;
  pieces.forEach(p => { ctx.font = p.font; p.w = ctx.measureText(p.text).width; total += p.w; });
  let x = cx - total / 2;
  pieces.forEach(p => {
    ctx.font = p.font;
    ctx.fillText(p.text, x, baseY + (p.dy || 0));
    x += p.w;
  });
}

// axes frame plus the two axis titles (with italic math symbols)
const axesDecor = {
  id: 'axesDecor',
  afterDraw(chart, args, opts) {
    const { ctx, chartArea: a } = chart;
    ctx.save();
    ctx.strokeStyle = '#000';
    ctx.lineWidth = 1;
    ctx.strokeRect(a.left + 0.5, a.top + 0.5, a.right - a.left - 1, a.bottom - a.top - 1);

    ctx.fillStyle = '#000';
    ctx.textBaseline = 'alphabetic';
    ctx.textAlign = 'left';
    const reg = '16px ' + FONT, ita = 'italic 16px ' + FONT, sub = '11px ' + FONT;
    drawPieces(ctx, [
      { text: 'Wavelength ', font: reg },
      { text: 'λ', font: ita },
      { text: ' [', font: reg },
      { text: 'Å', font: ita },
      { text: ']', font: reg }
    ], (a.left + a.right) / 2, opts.xTitleBase);

    ctx.translate(opts.yTitleBase, (a.top + a.bottom) / 2);
    ctx.rotate(-Math.PI / 2);
    drawPieces(ctx, [
      { text: 'Z-score (', font: reg },
      { text: 'Z', font: ita },
      { text: opts.sub, font: sub, dy: 3.5 },
      { text: ')', font: reg }
    ], 0, 0);
    ctx.restore();
  }
};

function makeScales(xAxisHeight) {
  const tickFont = { family: FONT, size: 9.4 };
  return {
    x: {
      type: 'linear',
      min: xMin,
      max: xMax,
      afterBuildTicks: s => { s.ticks = xTicks.map(v => ({ value: v })); },
      afterFit: s => { s.height = xAxisHeight; s.paddingLeft = 0; s.paddingRight = 0; },
      ticks: { font: tickFont, color: '#111', padding: 3, maxRotation: 0, autoSkip: false, callback: v => String(v) },
      grid: { display: true, drawOnChartArea: false, drawTicks: true, tickLength: 4, tickColor: '#000', tickWidth: 1 },
      border: { display: false }
    },
    y: {
      min: -4,
      max: 3,
      afterBuildTicks: s => { s.ticks = yTicks.map(v => ({ value: v })); },
      afterFit: s => { s.width = 47; s.paddingTop = 0; s.paddingBottom = 0; },
      ticks: { font: tickFont, color: '#111', padding: 2, callback: v => (v < 0 ? '\u2212' + Math.abs(v) : String(v)) },
      grid: { display: true, drawOnChartArea: false, drawTicks: true, tickLength: 4, tickColor: '#000', tickWidth: 1 },
      border: { display: false }
    }
  };
}

function buildChart(canvasId, names, rows, meanPairs, cfg) {
  const ctx = document.getElementById(canvasId).getContext('2d');
  return new Chart(ctx, {
    type: 'line',
    data: { datasets: [meanSet(meanPairs), zeroSet()].concat(starSets(names, rows)) },
    options: {
      responsive: false,
      animation: false,
      events: [],
      layout: { padding: { top: cfg.padTop, right: 3, left: 0, bottom: 0 } },
      scales: makeScales(cfg.xAxisHeight),
      plugins: {
        legend: { display: false },
        tooltip: { enabled: false },
        starLegend: Object.assign({ items: names.map((n, i) => ({ label: n, color: tab10[i % 10] })) }, cfg.legend),
        axesDecor: { sub: cfg.sub, xTitleBase: 199, yTitleBase: 18 }
      }
    },
    plugins: [starLegend, axesDecor]
  });
}

document.addEventListener('DOMContentLoaded', () => {
  buildChart('topChart', topStars, topSeries, meanTop, {
    padTop: 5, xAxisHeight: 47, sub: '1',
    legend: { rows: 2, x: 50, top: 122, height: 34, firstRow: 8.5, rowH: 15.5, padL: 7, padR: 5 }
  });
  buildChart('bottomChart', bottomStars, bottomSeries, meanBottom, {
    padTop: 9, xAxisHeight: 46, sub: '2',
    legend: { rows: 1, x: 51, top: 140, height: 18, firstRow: 9, rowH: 15.5, padL: 6, padR: 5 }
  });
});
</script>
</body>
</html>
